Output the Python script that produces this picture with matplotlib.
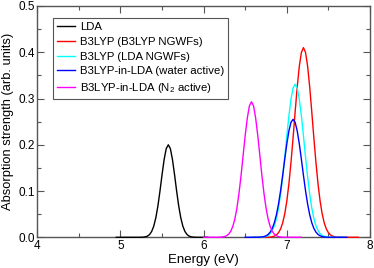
import numpy as np
import matplotlib
matplotlib.use('Agg')
import matplotlib.pyplot as plt
from matplotlib.ticker import MultipleLocator, FormatStrFormatter

plt.rcParams['font.family'] = ['Liberation Sans', 'DejaVu Sans']
plt.rcParams['mathtext.default'] = 'regular'

# spectra (energy in eV, absorption in arb. units)
lda_x = [4.95] + list(np.linspace(5.225, 5.925, 29)) + [6.05]
lda_y = [0.0,
         0.0000, 0.0001, 0.0004, 0.0011, 0.0026, 0.0060, 0.0126, 0.0240, 0.0422, 0.0678, 0.1002, 0.1356, 0.1682, 0.1916,
         0.200,
         0.1916, 0.1682, 0.1356, 0.1002, 0.0678, 0.0422, 0.0240, 0.0126, 0.0060, 0.0026, 0.0011, 0.0004, 0.0001, 0.0000,
         0.0]

b3_x = [6.6] + list(np.linspace(6.75, 7.65, 37)) + [7.86]
b3_y = [0.0,
        0.0001, 0.0002, 0.0005, 0.0012, 0.0026, 0.0052, 0.0099, 0.0180, 0.0310, 0.0506, 0.0785, 0.1156, 0.1618,
        0.2149, 0.2712, 0.3250, 0.3697, 0.3995,
        0.410,
        0.3995, 0.3697, 0.3250, 0.2712, 0.2149, 0.1618, 0.1156, 0.0785, 0.0506, 0.0310, 0.0180, 0.0099, 0.0052,
        0.0026, 0.0012, 0.0005, 0.0002, 0.0001,
        0.0]

b3lda_x = [6.55] + list(np.linspace(6.65, 7.55, 37)) + [7.7]
b3lda_y = [0.0,
           0.0001, 0.0002, 0.0004, 0.0010, 0.0021, 0.0042, 0.0080, 0.0145, 0.0250, 0.0408, 0.0634, 0.0933, 0.1306,
           0.1735, 0.2190, 0.2624, 0.2985, 0.3226,
           0.331,
           0.3226, 0.2985, 0.2624, 0.2190, 0.1735, 0.1306, 0.0933, 0.0634, 0.0408, 0.0250, 0.0145, 0.0080, 0.0042,
           0.0021, 0.0010, 0.0004, 0.0002, 0.0001,
           0.0]

water_x = [6.5] + list(np.linspace(6.625, 7.525, 37)) + [7.72]
water_y = [0.0,
           0.0001, 0.0001, 0.0003, 0.0008, 0.0016, 0.0032, 0.0062, 0.0112, 0.0193, 0.0315, 0.0488, 0.0719, 0.1006,
           0.1337, 0.1687, 0.2021, 0.2300, 0.2485,
           0.255,
           0.2485, 0.2300, 0.2021, 0.1687, 0.1337, 0.1006, 0.0719, 0.0488, 0.0315, 0.0193, 0.0112, 0.0062, 0.0032,
           0.0016, 0.0008, 0.0003, 0.0001, 0.0001,
           0.0]

n2_x = [6.0] + list(np.linspace(6.175, 6.975, 33)) + [7.175]
n2_y = [0.0,
        0.0001, 0.0003, 0.0006, 0.0015, 0.0033, 0.0067, 0.0129, 0.0233, 0.0396, 0.0633, 0.0952, 0.134, 0.178,
        0.221, 0.258, 0.284,
        0.293,
        0.284, 0.258, 0.221, 0.178, 0.134, 0.0952, 0.0633, 0.0396, 0.0233, 0.0129, 0.0067, 0.0033, 0.0015,
        0.0006, 0.0003, 0.0001,
        0.0]

labels = ['LDA', 'B3LYP (B3LYP NGWFs)', 'B3LYP (LDA NGWFs)',
          'B3LYP-in-LDA (water active)', 'B3LYP-in-LDA (N$_2$ active)']
colors = ['black', '#ff0000', '#00ffff', '#0000ff', '#ff00ff']

fig = plt.figure(figsize=(3.74, 2.68), dpi=100)
ax = fig.add_axes([37.3 / 374, 1 - 237.3 / 268, (370 - 37.3) / 374, (237.3 - 6) / 268])

series = [(lda_x, lda_y), (b3_x, b3_y), (b3lda_x, b3lda_y), (water_x, water_y), (n2_x, n2_y)]
for (x, y), lab, c in zip(series, labels, colors):
    ax.plot(x, y, color=c, lw=1.0, label=lab, clip_on=False, zorder=3)

ax.set_xlim(4, 8)
ax.set_ylim(0, 0.5)
ax.xaxis.set_major_locator(MultipleLocator(1))
ax.xaxis.set_minor_locator(MultipleLocator(0.5))
ax.yaxis.set_major_locator(MultipleLocator(0.1))
ax.yaxis.set_minor_locator(MultipleLocator(0.05))
ax.yaxis.set_major_formatter(FormatStrFormatter('%.1f'))
ax.tick_params(which='both', direction='in', top=True, right=True, labelsize=8.5, pad=2, color='#555555')
ax.tick_params(which='major', length=5, width=0.8)
ax.tick_params(which='minor', length=3, width=0.8)
for s in ax.spines.values():
    s.set_color('#555555')
    s.set_linewidth(1.0)

ax.set_xlabel('Energy (eV)', fontsize=9.5, labelpad=1.5)
ax.set_ylabel('Absorption strength (arb. units)', fontsize=9.3, labelpad=3)

leg = ax.legend(loc='upper left', bbox_to_anchor=(53.3 / 374, 1 - 18.3 / 268),
                bbox_transform=fig.transFigure, borderaxespad=0, fontsize=8.2,
                fancybox=False, framealpha=1, edgecolor='#555555',
                handlelength=1.6, handletextpad=0.4, labelspacing=0.42, borderpad=0.32)
leg.get_frame().set_linewidth(0.8)

plt.savefig('out.png', dpi=100)
plt.close(fig)
